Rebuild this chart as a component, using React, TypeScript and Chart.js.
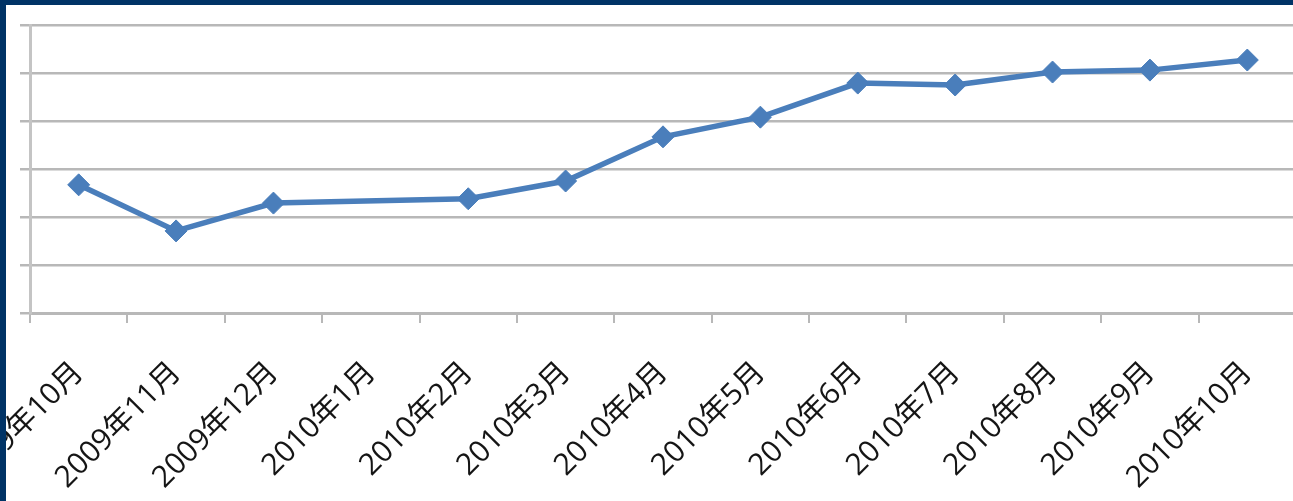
import React, { useEffect, useRef } from "react";
import { Chart, registerables } from "chart.js";

Chart.register(...registerables);

const categories = [
  "2009年10月", "2009年11月", "2009年12月", "2010年1月", "2010年2月", "2010年3月",
  "2010年4月", "2010年5月", "2010年6月", "2010年7月", "2010年8月", "2010年9月", "2010年10月",
];
const seriesValues: (number | null)[] = [
  2.67, 1.71, 2.29, null, 2.38, 2.75, 3.67, 4.08, 4.79, 4.75, 5.02, 5.06, 5.27,
];
const yMin = 0;
const yMax = 6;
const yStep = 1;

export default function App() {
  const ref = useRef<HTMLCanvasElement | null>(null);
  useEffect(() => {
    if (!ref.current) return;
    const chart = new Chart(ref.current, {
      type: "line",
      data: {
        labels: categories,
        datasets: [
          {
            data: seriesValues,
            borderColor: "#4a7ebb",
            backgroundColor: "#4a7ebb",
            borderWidth: 5.5,
            pointStyle: "rectRot",
            pointRadius: 11,
            pointHoverRadius: 11,
            pointBorderWidth: 1,
            spanGaps: true,
            tension: 0,
          },
        ],
      },
      options: {
        animation: false,
        responsive: false,
        maintainAspectRatio: false,
        layout: { autoPadding: false, padding: { top: 20, left: 0, right: 0, bottom: 0 } },
        plugins: { legend: { display: false }, tooltip: { enabled: false } },
        scales: {
          x: {
            offset: true,
            grid: {
              offset: true,
              drawOnChartArea: false,
              drawTicks: true,
              tickLength: 10,
              color: "#b8b8b8",
              lineWidth: 2,
            },
            border: { display: true, color: "#b8b8b8", width: 3 },
            ticks: {
              autoSkip: false,
              maxRotation: 45,
              minRotation: 45,
              padding: 32,
              color: "#151515",
              font: { family: "'Open Sans', 'Noto Sans CJK SC', sans-serif", size: 30 },
            },
            afterFit: (scale: any) => {
              scale.paddingLeft = 0;
              scale.paddingRight = 0;
              scale.height = 188;
            },
          },
          y: {
            min: yMin,
            max: yMax,
            grid: {
              color: "#b8b8b8",
              lineWidth: 2.5,
              drawTicks: true,
              tickLength: 10,
            },
            border: { display: true, color: "#c4c4c4", width: 3 },
            ticks: { display: false, stepSize: yStep },
            afterFit: (scale: any) => {
              scale.width = 24;
            },
          },
        },
      },
    });
    return () => chart.destroy();
  }, []);

  return (
    <div
      style={{
        position: "fixed",
        left: 0,
        top: 0,
        width: 1293,
        height: 501,
        background: "#003366",
        overflow: "hidden",
      }}
    >
      <div
        style={{
          position: "absolute",
          left: 6,
          top: 5,
          width: 1287,
          height: 496,
          background: "#ffffff",
          overflow: "hidden",
        }}
      >
        <canvas ref={ref} width={1290} height={496} style={{ display: "block" }} />
      </div>
    </div>
  );
}
